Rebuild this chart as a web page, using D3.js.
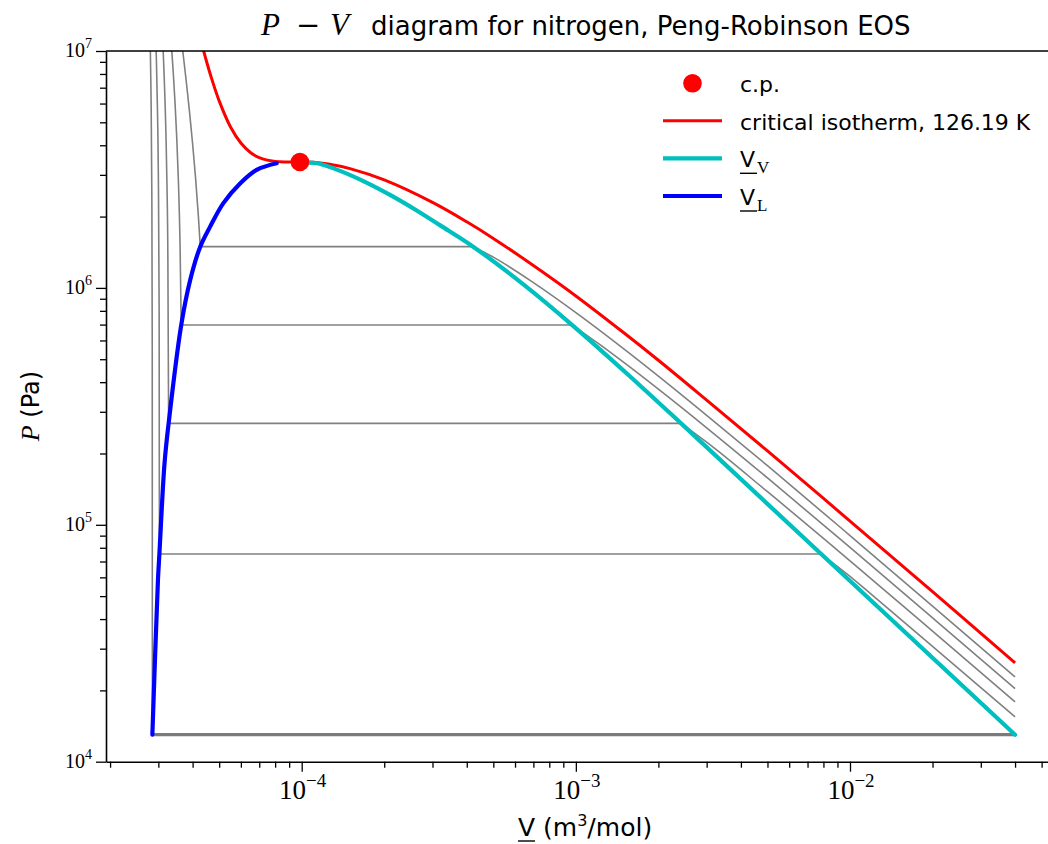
<!DOCTYPE html>
<html>
<head>
<meta charset="utf-8">
<script src="https://cdn.jsdelivr.net/npm/d3@7"></script>
<style>
  html, body { margin: 0; padding: 0; background: #fff; }
  svg { display: block; }
  .sans { font-family: "DejaVu Sans", "Liberation Sans", sans-serif; }
  .serif { font-family: "Liberation Serif", "DejaVu Serif", serif; }
</style>
</head>
<body>
<svg id="chart" width="1048" height="844"></svg>
<script>
// ---- data (molar volume in m^3/mol, pressure in Pa) ----
const critIsoV = [4.2e-5, 4.3e-5, 4.4e-5, 4.5e-5, 4.7e-5, 5e-5, 5.5e-5, 6e-5, 6.5e-5, 7e-5, 8e-5, 9e-5,
                  1.1e-4, 1.25e-4, 1.5e-4, 2e-4, 3e-4, 4e-4, 5e-4, 7e-4, 1e-3, 1.5e-3, 2e-3, 3e-3,
                  5e-3, 1e-2, 2e-2, 4e-2];
const critIsoP = [1.218e7, 1.094e7, 9.90e6, 9.01e6, 7.61e6, 6.16e6, 4.78e6, 4.09e6, 3.73e6, 3.55e6, 3.42e6, 3.40e6,
                  3.393e6, 3.334e6, 3.188e6, 2.857e6, 2.296e6, 1.901e6, 1.618e6, 1.243e6, 9.25e5, 6.45e5, 4.95e5, 3.36e5,
                  2.05e5, 1.037e5, 5.22e4, 2.615e4];

const critPoint = { V: 9.85e-5, P: 3.40e6 };

// saturated vapour molar volume
const satVapV = [1.06e-4, 1.15e-4, 1.38e-4, 1.7e-4, 2.1e-4, 2.6e-4, 3.2e-4, 4.22e-4, 6.4e-4, 9.7e-4, 1.57e-3, 2.42e-3, 7.85e-3, 4.0e-2];
const satVapP = [3.38e6, 3.35e6, 3.12e6, 2.805e6, 2.47e6, 2.138e6, 1.836e6, 1.493e6, 1.04e6, 6.97e5, 4.25e5, 2.68e5, 7.53e4, 1.30e4];

// saturated liquid molar volume
const satLiqV = [2.853e-5, 2.99e-5, 3.0265e-5, 3.16e-5, 3.27e-5, 3.635e-5, 3.92e-5, 4.265e-5, 4.63e-5, 5.18e-5, 5.96e-5, 6.85e-5, 8.1e-5];
const satLiqP = [1.30e4, 5.85e4, 7.53e4, 1.82e5, 2.68e5, 6.97e5, 1.08e6, 1.493e6, 1.81e6, 2.28e6, 2.76e6, 3.15e6, 3.36e6];

// subcritical isotherms: vapour pressure and the two coexisting volumes
const isoPsat = [1.493e6, 6.97e5, 2.68e5, 7.53e4, 1.30e4];
const isoVL   = [4.265e-5, 3.635e-5, 3.27e-5, 3.0265e-5, 2.853e-5];
const isoVV   = [4.22e-4, 9.7e-4, 2.42e-3, 7.85e-3, 4.0e-2];

// compressed-liquid branches (ending at the saturated liquid)
const isoLiqV = [
  [3.6e-5, 3.7e-5, 3.8e-5, 3.9e-5, 4.0e-5, 4.1e-5, 4.2e-5, 4.265e-5],
  [3.30e-5, 3.355e-5, 3.4e-5, 3.45e-5, 3.5e-5, 3.55e-5, 3.6e-5, 3.635e-5],
  [3.1e-5, 3.125e-5, 3.15e-5, 3.2e-5, 3.225e-5, 3.25e-5, 3.27e-5],
  [2.93e-5, 2.95e-5, 2.975e-5, 3.0e-5, 3.02e-5, 3.0265e-5],
  [2.8e-5, 2.82e-5, 2.84e-5, 2.85e-5, 2.853e-5]
];
const isoLiqP = [
  [1.244e7, 9.55e6, 7.29e6, 5.49e6, 4.06e6, 2.92e6, 2.00e6, 1.493e6],
  [1.32e7, 1.02e7, 8.11e6, 6.09e6, 4.34e6, 2.83e6, 1.52e6, 6.97e5],
  [1.217e7, 9.90e6, 7.85e6, 4.28e6, 2.73e6, 1.31e6, 2.68e5],
  [1.233e7, 9.32e6, 5.95e6, 2.95e6, 7.9e5, 7.53e4],
  [1.148e7, 6.71e6, 2.49e6, 5.6e5, 1.30e4]
];

// superheated-vapour branches (starting at the saturated vapour)
const isoVapV = [
  [4.22e-4, 5e-4, 7e-4, 1e-3, 1.5e-3, 2e-3, 3e-3, 5e-3, 1e-2, 2e-2, 4e-2],
  [9.7e-4, 1.2e-3, 1.5e-3, 2e-3, 3e-3, 5e-3, 1e-2, 2e-2, 4e-2],
  [2.42e-3, 3e-3, 5e-3, 1e-2, 2e-2, 4e-2],
  [7.85e-3, 1e-2, 1.2e-2, 2e-2, 4e-2],
  []
];
const isoVapP = [
  [1.493e6, 1.348e6, 1.053e6, 7.87e5, 5.52e5, 4.245e5, 2.90e5, 1.776e5, 9.01e4, 4.54e4, 2.278e4],
  [6.97e5, 5.856e5, 4.832e5, 3.736e5, 2.567e5, 1.577e5, 8.03e4, 4.05e4, 2.034e4],
  [2.68e5, 2.232e5, 1.379e5, 7.05e4, 3.56e4, 1.79e4],
  [7.53e4, 6.06e4, 5.07e4, 3.07e4, 1.546e4],
  []
];

const yMajorTicks = [1e4, 1e5, 1e6, 1e7];
const yTickExp    = ["4", "5", "6", "7"];
const xMajorTicks = [1e-4, 1e-3, 1e-2];
const xTickExp    = ["\u22124", "\u22123", "\u22122"];

const legendLabels = ["c.p.", "critical isotherm, 126.19 K", "V", "V"];
const legendSubs   = [null, null, "V", "L"];

// ---- layout ----
const svg = d3.select("#chart");
const plotLeft = 106, plotTop = 51, plotBottom = 761.7, plotRight = 1063;
const decadePx = 274.15, xAt1e4 = 301.7;

const xMin = Math.pow(10, -4 - (xAt1e4 - plotLeft) / decadePx);
const xMax = Math.pow(10, -4 + (plotRight - xAt1e4) / decadePx);
const x = d3.scaleLog().domain([xMin, xMax]).range([plotLeft, plotRight]);
const y = d3.scaleLog().domain([1e4, 1e7]).range([plotBottom, plotTop]);

svg.append("defs").append("clipPath").attr("id", "plotclip")
  .append("rect").attr("x", plotLeft).attr("y", plotTop)
  .attr("width", plotRight - plotLeft).attr("height", plotBottom - plotTop);

const plot = svg.append("g").attr("clip-path", "url(#plotclip)");

const curve = d3.line()
  .x(d => x(d[0])).y(d => y(d[1]))
  .curve(d3.curveMonotoneX);
const smooth = d3.line()
  .x(d => x(d[0])).y(d => y(d[1]))
  .curve(d3.curveCatmullRom.alpha(0.5));
const straight = d3.line().x(d => x(d[0])).y(d => y(d[1]));

const zip = (a, b) => a.map((v, i) => [v, b[i]]);

// subcritical isotherms
const GRAY = "#808080";
isoPsat.forEach((ps, i) => {
  plot.append("path").attr("d", curve(zip(isoLiqV[i], isoLiqP[i])))
    .attr("fill", "none").attr("stroke", GRAY).attr("stroke-width", 1.6);
  plot.append("path").attr("d", straight([[isoVL[i], ps], [isoVV[i], ps]]))
    .attr("fill", "none").attr("stroke", i === isoPsat.length - 1 ? "#7a7a7a" : GRAY)
    .attr("stroke-width", i === isoPsat.length - 1 ? 3.2 : 1.6);
  if (isoVapV[i].length > 1) {
    plot.append("path").attr("d", curve(zip(isoVapV[i], isoVapP[i])))
      .attr("fill", "none").attr("stroke", GRAY).attr("stroke-width", 1.6);
  }
});

// critical isotherm
plot.append("path").attr("d", smooth(zip(critIsoV, critIsoP)))
  .attr("fill", "none").attr("stroke", "#ff0000").attr("stroke-width", 3);

// saturation envelope
plot.append("path").attr("d", smooth(zip(satVapV, satVapP)))
  .attr("fill", "none").attr("stroke", "#00bfbf").attr("stroke-width", 4.2)
  .attr("stroke-linecap", "round");
plot.append("path").attr("d", smooth(zip(satLiqV, satLiqP)))
  .attr("fill", "none").attr("stroke", "#0000ff").attr("stroke-width", 4.2)
  .attr("stroke-linecap", "round");

// critical point
svg.append("circle").attr("cx", x(critPoint.V)).attr("cy", y(critPoint.P))
  .attr("r", 9.3).attr("fill", "#ff0000");

// ---- axes ----
const xMinorTicks = [];
for (let k = -5; k <= -1; k++) for (let m = 2; m <= 9; m++) {
  const v = m * Math.pow(10, k);
  if (v >= xMin && v <= xMax) xMinorTicks.push(v);
}
const yMinorTicks = [];
for (let k = 4; k <= 6; k++) for (let m = 2; m <= 9; m++) yMinorTicks.push(m * Math.pow(10, k));

const gx = svg.append("g").attr("transform", `translate(0,${plotBottom})`);
gx.call(d3.axisBottom(x).tickValues(xMinorTicks).tickSize(6).tickSizeOuter(0).tickFormat(""));
gx.append("g").call(d3.axisBottom(x).tickValues(xMajorTicks).tickSize(10).tickSizeOuter(0).tickFormat(""))
  .select(".domain").remove();
gx.selectAll(".domain").attr("stroke", "#000").attr("stroke-width", 1.6);
gx.selectAll(".tick line").attr("stroke", "#000").attr("stroke-width", 1.3);

const gy = svg.append("g").attr("transform", `translate(${plotLeft},0)`);
gy.call(d3.axisLeft(y).tickValues(yMinorTicks).tickSize(6).tickSizeOuter(0).tickFormat(""));
gy.append("g").call(d3.axisLeft(y).tickValues(yMajorTicks).tickSize(10).tickSizeOuter(0).tickFormat(""))
  .select(".domain").remove();
gy.selectAll(".domain").attr("stroke", "#000").attr("stroke-width", 1.6);
gy.selectAll(".tick line").attr("stroke", "#000").attr("stroke-width", 1.3);

// top spine
svg.append("line").attr("x1", plotLeft).attr("x2", plotRight)
  .attr("y1", plotTop).attr("y2", plotTop).attr("stroke", "#000").attr("stroke-width", 1.6);

// tick labels (powers of ten)
yMajorTicks.forEach((v, i) => {
  const t = svg.append("text").attr("class", "serif").attr("text-anchor", "end")
    .attr("x", plotLeft - 14).attr("y", y(v) + 6).attr("font-size", 20).attr("fill", "#000");
  t.append("tspan").text("10");
  t.append("tspan").attr("dy", -9).attr("font-size", 14).text(yTickExp[i]);
});
xMajorTicks.forEach((v, i) => {
  const t = svg.append("text").attr("class", "serif").attr("text-anchor", "middle")
    .attr("x", x(v) + 1).attr("y", plotBottom + 37).attr("font-size", 27).attr("fill", "#000");
  t.append("tspan").text("10");
  t.append("tspan").attr("dy", -12).attr("font-size", 19).text(xTickExp[i]);
});

// axis titles
const xl = svg.append("text").attr("class", "sans").attr("x", 518).attr("y", 836)
  .attr("font-size", 25).attr("fill", "#000");
xl.append("tspan").text("V");
xl.append("tspan").text(" (m");
xl.append("tspan").attr("dy", -10).attr("font-size", 16).text("3");
xl.append("tspan").attr("dy", 10).text("/mol)");
svg.append("line").attr("x1", 518).attr("x2", 535).attr("y1", 841).attr("y2", 841)
  .attr("stroke", "#000").attr("stroke-width", 1.4);

const yl = svg.append("text").attr("transform", "translate(39,406) rotate(-90)")
  .attr("text-anchor", "middle").attr("font-size", 26).attr("fill", "#000");
yl.append("tspan").attr("class", "serif").attr("font-style", "italic").text("P");
yl.append("tspan").attr("class", "sans").attr("font-size", 24).text(" (Pa)");

// title
const titleY = 35;
svg.append("text").attr("class", "serif").attr("font-style", "italic").attr("font-size", 31)
  .attr("x", 261).attr("y", titleY).text("P");
svg.append("text").attr("class", "sans").attr("font-size", 29)
  .attr("x", 296).attr("y", titleY).text("\u2212");
svg.append("text").attr("class", "serif").attr("font-style", "italic").attr("font-size", 31)
  .attr("x", 330).attr("y", titleY).text("V");
svg.append("text").attr("class", "sans").attr("font-size", 26)
  .attr("x", 371).attr("y", titleY).text("diagram for nitrogen, Peng-Robinson EOS");

// ---- legend ----
const lg = svg.append("g");
const rowY = [83.3, 120.7, 158.3, 196];
const textX = 740, hx0 = 663, hx1 = 722;
lg.append("circle").attr("cx", (hx0 + hx1) / 2).attr("cy", rowY[0]).attr("r", 9.3).attr("fill", "#ff0000");
[["#ff0000", 3], ["#00bfbf", 4.2], ["#0000ff", 4.2]].forEach(([c, w], i) => {
  lg.append("line").attr("x1", hx0).attr("x2", hx1).attr("y1", rowY[i + 1]).attr("y2", rowY[i + 1])
    .attr("stroke", c).attr("stroke-width", w);
});
legendLabels.forEach((lab, i) => {
  const t = lg.append("text").attr("class", "sans").attr("x", textX).attr("y", rowY[i] + 9)
    .attr("font-size", 22).attr("fill", "#000");
  t.append("tspan").text(lab);
  if (legendSubs[i]) {
    t.append("tspan").attr("class", "serif").attr("font-size", 17).attr("dy", 6).attr("dx", 2).text(legendSubs[i]);
    lg.append("line").attr("x1", textX).attr("x2", textX + 17)
      .attr("y1", rowY[i] + 15).attr("y2", rowY[i] + 15)
      .attr("stroke", "#000").attr("stroke-width", 1.4);
  }
});
</script>
</body>
</html>
